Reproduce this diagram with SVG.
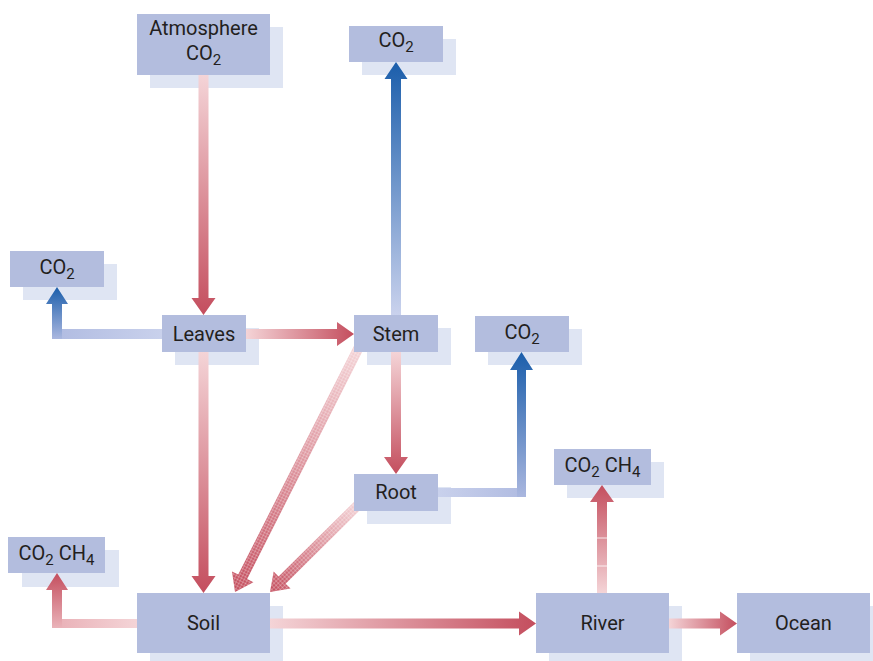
<svg xmlns="http://www.w3.org/2000/svg" width="873" height="661" viewBox="0 0 873 661">
<style>
.box{fill:#b3bdde}
.sh{fill:#dfe5f3}
.t{font-family:Roboto,"Liberation Sans",Arial,sans-serif;font-weight:400;font-size:20px;fill:#231f20;text-anchor:middle}
.s{font-size:15px}
</style>
<defs>
<linearGradient id="rDown" x1="0" y1="0" x2="0" y2="1"><stop offset="0" stop-color="#f4d4d7"/><stop offset="1" stop-color="#c44e5e"/></linearGradient>
<linearGradient id="rRight" x1="0" y1="0" x2="1" y2="0"><stop offset="0" stop-color="#f4d4d7"/><stop offset="1" stop-color="#c44e5e"/></linearGradient>
<linearGradient id="rUp" x1="0" y1="1" x2="0" y2="0"><stop offset="0" stop-color="#f4d4d7"/><stop offset="1" stop-color="#c44e5e"/></linearGradient>
<linearGradient id="rLeftH" x1="1" y1="0" x2="0" y2="0"><stop offset="0" stop-color="#f4d4d7"/><stop offset="1" stop-color="#eab3b9"/></linearGradient>
<linearGradient id="rUpV" x1="0" y1="1" x2="0" y2="0"><stop offset="0" stop-color="#eab3b9"/><stop offset="1" stop-color="#c44e5e"/></linearGradient>
<linearGradient id="bUp" x1="0" y1="1" x2="0" y2="0"><stop offset="0" stop-color="#cad2ed"/><stop offset="1" stop-color="#1b5eab"/></linearGradient>
<linearGradient id="bLeftH" x1="1" y1="0" x2="0" y2="0"><stop offset="0" stop-color="#c9d1ec"/><stop offset="1" stop-color="#b2bde2"/></linearGradient>
<linearGradient id="bRightH" x1="0" y1="0" x2="1" y2="0"><stop offset="0" stop-color="#c9d1ec"/><stop offset="1" stop-color="#b2bde2"/></linearGradient>
<linearGradient id="bUpV" x1="0" y1="1" x2="0" y2="0"><stop offset="0" stop-color="#aab7df"/><stop offset="1" stop-color="#1b5eab"/></linearGradient>
<pattern id="hatch" width="3" height="3" patternUnits="userSpaceOnUse">
<path d="M0 0.5H3M0.5 0V3" stroke="#ffffff" stroke-width="0.7" stroke-opacity="0.35"/>
</pattern>
</defs>

<g id="shadows">
<rect class="sh" x="150" y="27" width="133" height="61"/>
<rect class="sh" x="362" y="39" width="94" height="36"/>
<rect class="sh" x="23" y="264" width="94" height="36"/>
<rect class="sh" x="175" y="328" width="84" height="37"/>
<rect class="sh" x="367" y="328" width="84" height="37"/>
<rect class="sh" x="488" y="329" width="94" height="36"/>
<rect class="sh" x="367" y="487" width="84" height="37"/>
<rect class="sh" x="22" y="550" width="97" height="37"/>
<rect class="sh" x="150" y="606" width="133" height="61"/>
<rect class="sh" x="567" y="462" width="97" height="36"/>
<rect class="sh" x="549" y="606" width="133" height="61"/>
<rect class="sh" x="750" y="606" width="133" height="61"/>
</g>

<g id="connectors">
<polygon fill="url(#rDown)" points="198.5,75 208.5,75 208.5,298 215.5,298 203.5,315 191.5,298 198.5,298"/>
<polygon fill="url(#rRight)" points="246,329 337,329 337,322 354,334 337,346 337,339 246,339"/>
<polygon fill="url(#bUp)" points="391,315 391,79 384.5,79 396,62 407.5,79 401,79 401,315"/>
<rect fill="url(#bLeftH)" x="62" y="329" width="100" height="10"/>
<polygon fill="url(#bUpV)" points="52,339 62,339 62,304 68,304 57,287 46,304 52,304"/>
<polygon fill="url(#rDown)" points="391,352 401,352 401,457 408,457 396,474 384,457 391,457"/>
<rect fill="url(#bRightH)" x="438" y="488" width="79" height="9"/>
<polygon fill="url(#bUpV)" points="517,497 526,497 526,370 533,370 521.5,352 510,370 517,370"/>
<polygon fill="url(#rDown)" points="198.5,352 208.5,352 208.5,576 215.5,576 203.5,593 191.5,576 198.5,576"/>
<g transform="translate(360,345) rotate(116.84)">
<polygon fill="url(#rRight)" points="0,-5 259.8,-5 259.8,-12 276.8,0 259.8,12 259.8,5 0,5"/>
<polygon fill="url(#hatch)" points="0,-5 259.8,-5 259.8,-12 276.8,0 259.8,12 259.8,5 0,5"/>
</g>
<g transform="translate(360,503) rotate(135.3)">
<polygon fill="url(#rRight)" points="0,-5 109.6,-5 109.6,-12 126.6,0 109.6,12 109.6,5 0,5"/>
<polygon fill="url(#hatch)" points="0,-5 109.6,-5 109.6,-12 126.6,0 109.6,12 109.6,5 0,5"/>
</g>
<rect fill="url(#rLeftH)" x="62" y="619" width="75" height="9"/>
<polygon fill="url(#rUpV)" points="52,628 62,628 62,590 68,590 57,573 46,590 52,590"/>
<polygon fill="url(#rRight)" points="270,618.5 519,618.5 519,611.5 536,623.5 519,635.5 519,628.5 270,628.5"/>
<polygon fill="url(#rUp)" points="597,593 607,593 607,502 614,502 602,485 590,502 597,502"/>
<path d="M597 538H607M597 566H607" stroke="#ffffff" stroke-width="0.8"/>
<polygon fill="url(#rRight)" points="669,618.5 720,618.5 720,611.5 737,623.5 720,635.5 720,628.5 669,628.5"/>
</g>

<g id="atmosphere">
<rect class="box" x="137" y="14" width="133" height="61"/>
<text class="t" x="203.5" y="35">Atmosphere</text>
<text class="t" x="203.5" y="60">CO<tspan class="s" dy="5">2</tspan></text>
</g>
<g id="co2-top">
<rect class="box" x="349" y="26" width="94" height="36"/>
<text class="t" x="396" y="47">CO<tspan class="s" dy="5">2</tspan></text>
</g>
<g id="co2-left">
<rect class="box" x="10" y="251" width="94" height="36"/>
<text class="t" x="57" y="274">CO<tspan class="s" dy="5">2</tspan></text>
</g>
<g id="leaves">
<rect class="box" x="162" y="315" width="84" height="37"/>
<text class="t" x="204" y="341">Leaves</text>
</g>
<g id="stem">
<rect class="box" x="354" y="315" width="84" height="37"/>
<text class="t" x="396" y="341">Stem</text>
</g>
<g id="co2-right">
<rect class="box" x="475" y="316" width="94" height="36"/>
<text class="t" x="522" y="339">CO<tspan class="s" dy="5">2</tspan></text>
</g>
<g id="root">
<rect class="box" x="354" y="474" width="84" height="37"/>
<text class="t" x="396" y="499">Root</text>
</g>
<g id="co2ch4-left">
<rect class="box" x="8" y="537" width="97" height="36"/>
<text class="t" x="56.5" y="560">CO<tspan class="s" dy="5">2</tspan><tspan dy="-5"> CH</tspan><tspan class="s" dy="5">4</tspan></text>
</g>
<g id="soil">
<rect class="box" x="137" y="593" width="133" height="60"/>
<text class="t" x="203.5" y="630">Soil</text>
</g>
<g id="co2ch4-right">
<rect class="box" x="554" y="449" width="97" height="36"/>
<text class="t" x="602.5" y="472">CO<tspan class="s" dy="5">2</tspan><tspan dy="-5"> CH</tspan><tspan class="s" dy="5">4</tspan></text>
</g>
<g id="river">
<rect class="box" x="536" y="593" width="133" height="60"/>
<text class="t" x="602.5" y="630">River</text>
</g>
<g id="ocean">
<rect class="box" x="737" y="593" width="133" height="60"/>
<text class="t" x="803.5" y="630">Ocean</text>
</g>
</svg>
